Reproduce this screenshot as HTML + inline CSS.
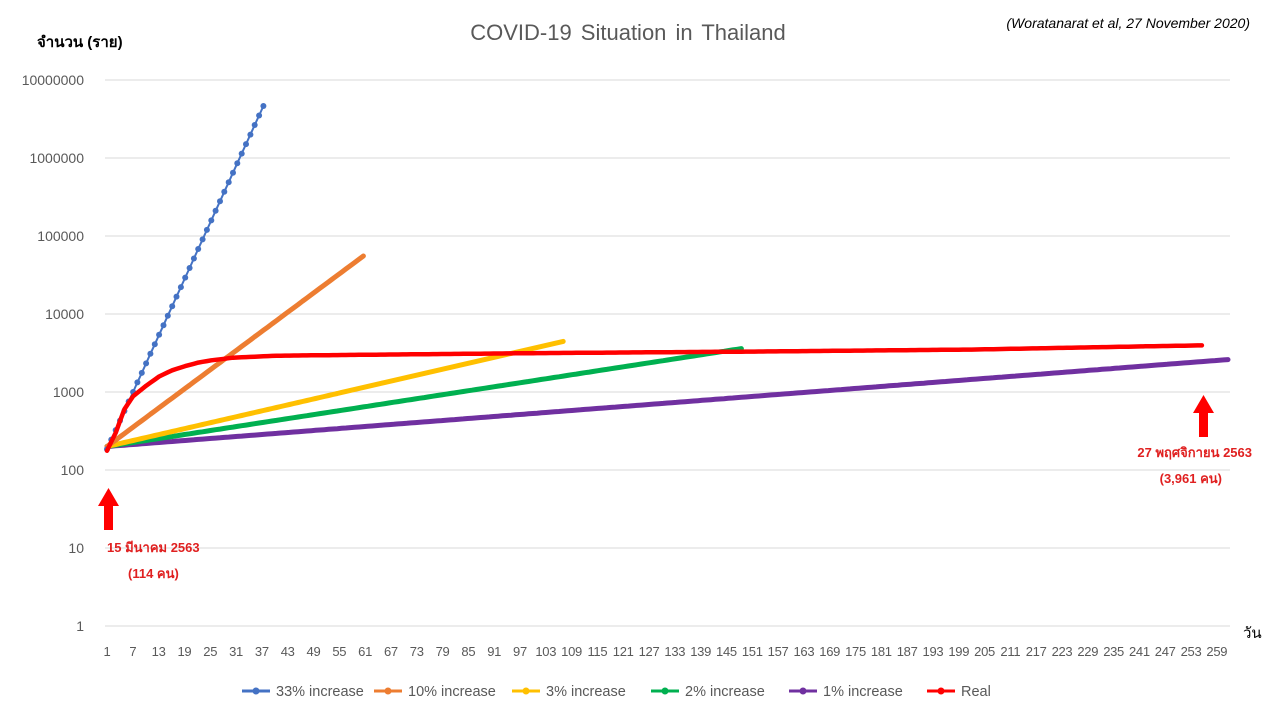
<!DOCTYPE html>
<html><head><meta charset="utf-8"><style>
body{margin:0;background:#fff;width:1280px;height:720px;overflow:hidden;font-family:"Liberation Sans",sans-serif}
</style></head><body>
<svg id="s" width="1280" height="720" xmlns="http://www.w3.org/2000/svg" font-family="Liberation Sans, DejaVu Sans, sans-serif">
<text x="628" y="40" font-size="22" fill="#595959" text-anchor="middle" word-spacing="3">COVID-19 Situation  in Thailand</text>
<text x="1250" y="28" font-size="14" font-style="italic" fill="#000" text-anchor="end">(Woratanarat et al, 27 November 2020)</text>
<text x="37" y="47" font-size="15" font-weight="bold" fill="#000">จำนวน (ราย)</text>
<text x="1243" y="638" font-size="15" fill="#000">วัน</text>
<g id="grid"></g><g id="series"></g>
<g fill="#f00">
<rect x="104" y="505" width="9" height="25"/><polygon points="98,506 119,506 108.5,488"/>
<rect x="1199" y="412" width="9" height="25"/><polygon points="1193,413 1214,413 1203.5,395"/>
</g>
<g font-size="13" font-weight="bold" fill="#e02020">
<text x="107" y="552">15 มีนาคม 2563</text><text x="128" y="578">(114 คน)</text>
<text x="1252" y="457" text-anchor="end">27 พฤศจิกายน 2563</text><text x="1222" y="483" text-anchor="end">(3,961 คน)</text>
</g>
<g id="legend" font-size="14.5" fill="#595959"></g>
</svg>
<script>
const NS="http://www.w3.org/2000/svg";
function el(t,a,p){const e=document.createElementNS(NS,t);for(const k in a)e.setAttribute(k,a[k]);p.appendChild(e);return e;}
const grid=document.getElementById('grid'),ser=document.getElementById('series'),leg=document.getElementById('legend');
const Y=v=>626-78*Math.log10(v), X=d=>107+(d-1)*(1121/258);
for(let i=0;i<=7;i++){const y=626-78*i;
 el('line',{x1:105,x2:1230,y1:y,y2:y,stroke:'#d9d9d9','stroke-width':1},grid);
 const t=el('text',{x:84,y:y+5,'font-size':14,fill:'#595959','text-anchor':'end'},grid);t.textContent=String(Math.pow(10,i));}
for(let i=0;i<=43;i++){const d=1+6*i;const t=el('text',{x:107+i*25.81,y:656,'font-size':13,fill:'#595959','text-anchor':'middle','letter-spacing':'-0.3'},grid);t.textContent=d;}
function draw(f,n,col,w,r){let pts=[];for(let d=1;d<=n;d++)pts.push(X(d).toFixed(1)+','+Y(f(d)).toFixed(1));
 el('polyline',{points:pts.join(' '),fill:'none',stroke:col,'stroke-width':w,'stroke-linejoin':'round','stroke-linecap':'round'},ser);
 if(r)pts.forEach(p=>{const[a,b]=p.split(',');el('circle',{cx:a,cy:b,r:r,fill:col},ser);});}
draw(d=>200*Math.pow(1.01,d-1),259,'#7030a0',5,0);
draw(d=>200*Math.pow(1.02,d-1),147,'#00b050',5,0);
draw(d=>200*Math.pow(1.03,d-1),106,'#ffc000',5,0);
draw(d=>200*Math.pow(1.10,d-1),60,'#ed7d31',5,0);
draw(d=>185*Math.pow(1.325,d-1),37,'#4472c4',2,3);
const R=[[1,177],[3,300],[5,600],[7,880],[10,1200],[13,1580],[16,1900],[19,2150],[22,2380],[25,2550],[30,2750],[40,2920],[60,3000],[100,3150],[150,3300],[200,3500],[240,3850],[253,3961]];
function real(d){for(let i=0;i<R.length-1;i++){const[a,va]=R[i],[b,vb]=R[i+1];if(d<=b){const t=(d-a)/(b-a);return Math.pow(10,Math.log10(va)+t*(Math.log10(vb)-Math.log10(va)));}}return 3961;}
draw(real,253,'#ff0000',4.5,0);
const L=[['33% increase','#4472c4',242],['10% increase','#ed7d31',374],['3% increase','#ffc000',512],['2% increase','#00b050',651],['1% increase','#7030a0',789],['Real','#ff0000',927]];
L.forEach(([t,c,x])=>{el('line',{x1:x,x2:x+28,y1:691,y2:691,stroke:c,'stroke-width':3},leg);el('circle',{cx:x+14,cy:691,r:3.5,fill:c},leg);const e=el('text',{x:x+34,y:696},leg);e.textContent=t;});
</script>
</body></html>
